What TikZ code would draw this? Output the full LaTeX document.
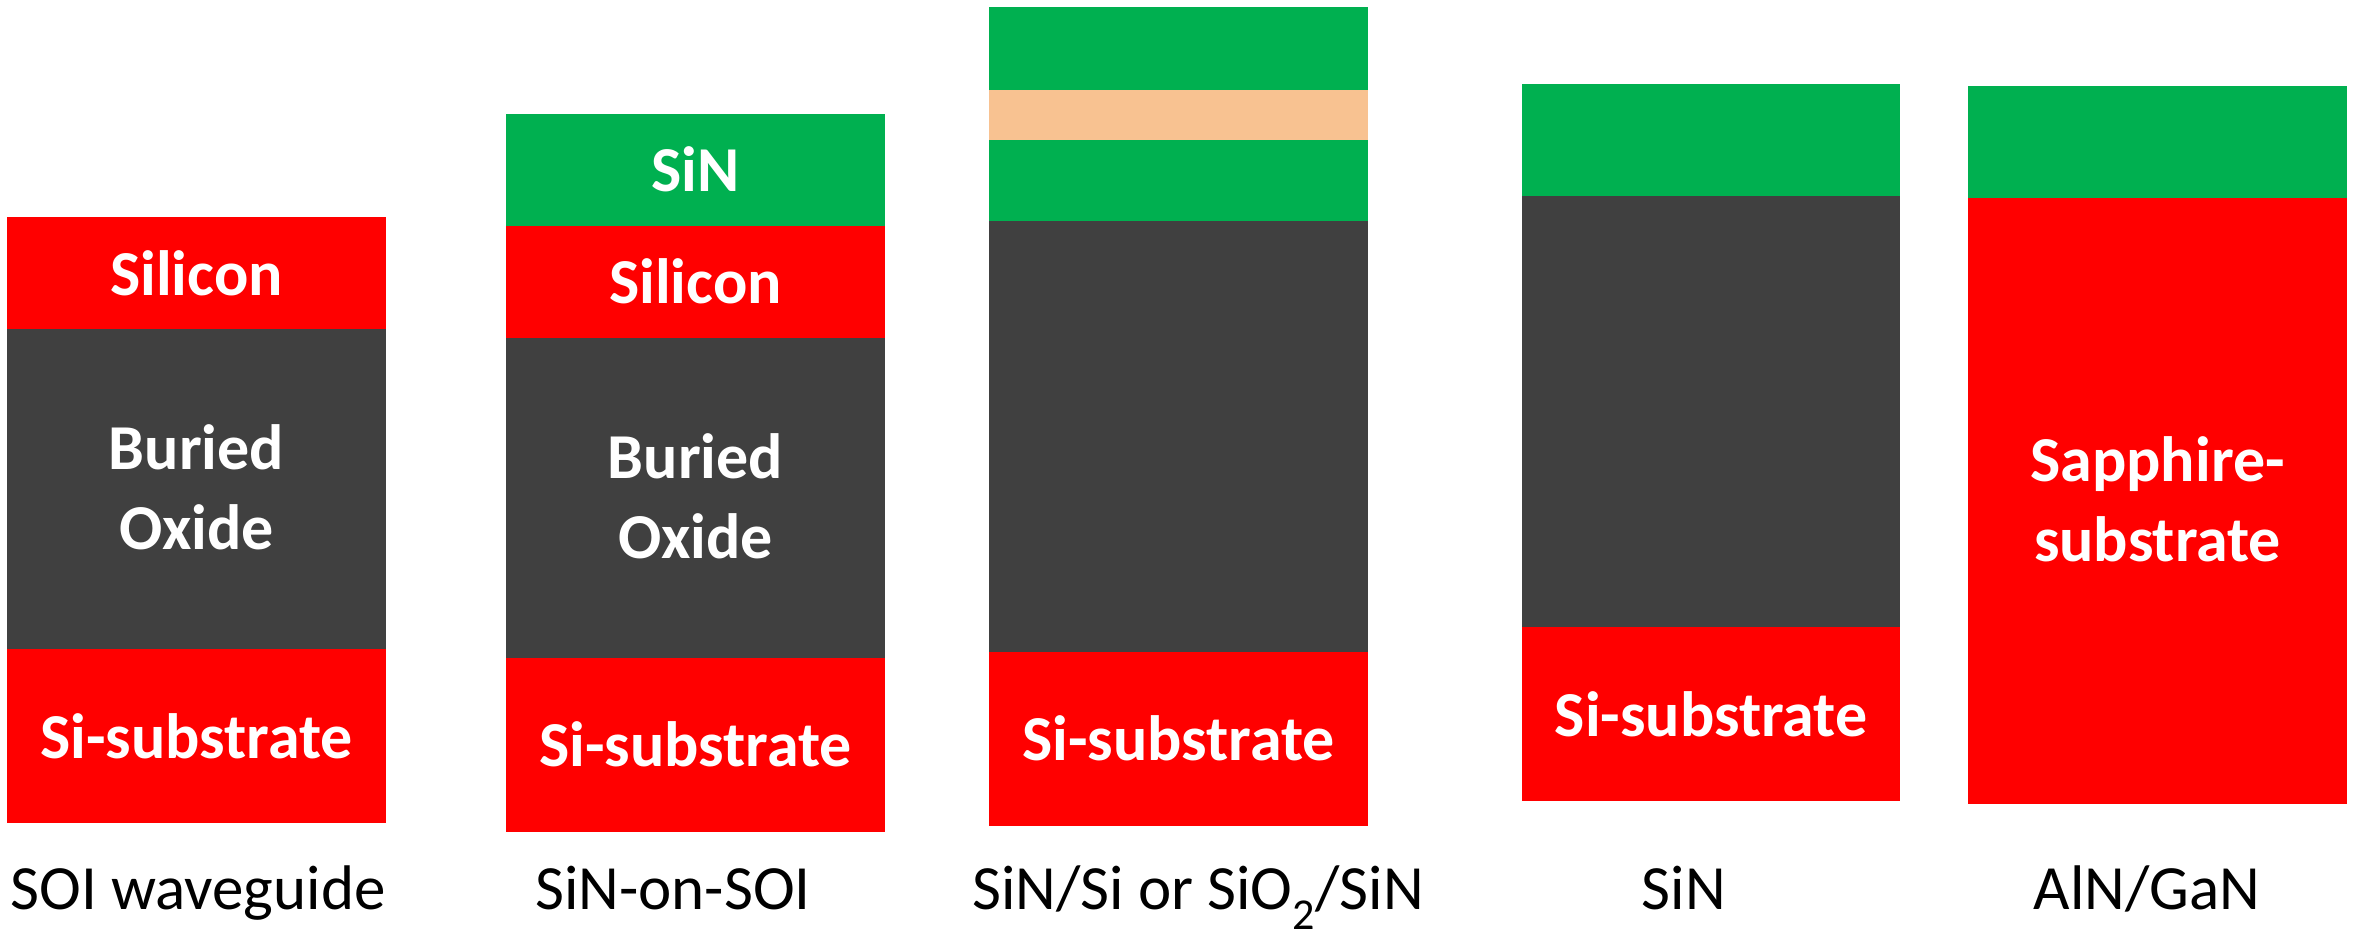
\documentclass[tikz,border=0pt]{standalone}
\usepackage{fontspec}
\setmainfont{Carlito}
\definecolor{sired}{HTML}{FF0000}
\definecolor{oxgray}{HTML}{404040}
\definecolor{sngreen}{HTML}{00B050}
\definecolor{peach}{HTML}{F8C291}
\tikzset{
  lbl/.style={text=white, font=\fontsize{64}{78}\selectfont\bfseries, anchor=base, inner sep=0pt, align=center},
  captext/.style={text=black, font=\fontsize{63}{75}\selectfont, anchor=base, inner sep=0pt}
}
\begin{document}
\begin{tikzpicture}[x=1pt,y=-1pt]
\useasboundingbox[fill=white] (0,0) rectangle (2359,934);
% Column 1: SOI waveguide
\fill[sired]  (7,217) rectangle (386,330);
\fill[oxgray] (7,329) rectangle (386,650);
\fill[sired]  (7,649) rectangle (386,823);
\node[lbl] (c1si)  at (196.5,295) {Silicon};
\node[lbl] (c1box) at (196.5,469) {Buried};
\node[lbl] (c1ox)  at (196.5,549) {Oxide};
\node[lbl] (c1sub) at (196.5,758) {Si-substrate};
\node[captext] (t1) at (198,909) {SOI waveguide};
% Column 2: SiN-on-SOI
\fill[sngreen] (506,114) rectangle (885,227);
\fill[sired]   (506,226) rectangle (885,339);
\fill[oxgray]  (506,338) rectangle (885,659);
\fill[sired]   (506,658) rectangle (885,832);
\node[lbl] (c2sin) at (695.5,191) {SiN};
\node[lbl] (c2si)  at (695.5,303) {Silicon};
\node[lbl] (c2box) at (695.5,478) {Buried};
\node[lbl] (c2ox)  at (695.5,558) {Oxide};
\node[lbl] (c2sub) at (695.5,766) {Si-substrate};
\node[captext] (t2) at (673,909) {SiN-on-SOI};
% Column 3: SiN/Si or SiO2/SiN
\fill[sngreen] (989,7) rectangle (1368,91);
\fill[peach]   (989,90) rectangle (1368,141);
\fill[sngreen] (989,140) rectangle (1368,222);
\fill[oxgray]  (989,221) rectangle (1368,653);
\fill[sired]   (989,652) rectangle (1368,826);
\node[lbl] (c3sub) at (1178.5,760) {Si-substrate};
\node[captext] (t3) at (1198,909) {SiN/Si or SiO\textsubscript{2}/SiN};
% Column 4: SiN
\fill[sngreen] (1522,84) rectangle (1900,197);
\fill[oxgray]  (1522,196) rectangle (1900,628);
\fill[sired]   (1522,627) rectangle (1900,801);
\node[lbl] (c4sub) at (1711,736) {Si-substrate};
\node[captext] (t4) at (1684,909) {SiN};
% Column 5: AlN/GaN
\fill[sngreen] (1968,86) rectangle (2347,199);
\fill[sired]   (1968,198) rectangle (2347,804);
\node[lbl] (c5a) at (2157.5,481) {Sapphire-};
\node[lbl] (c5b) at (2157.5,561) {substrate};
\node[captext] (t5) at (2147,909) {AlN/GaN};
\end{tikzpicture}
\end{document}
